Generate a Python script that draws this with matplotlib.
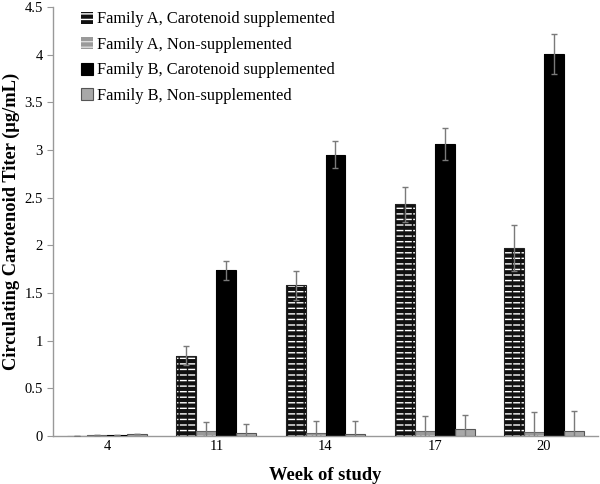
import matplotlib
matplotlib.use("Agg")
import matplotlib.pyplot as plt
import numpy as np
from matplotlib.ticker import FuncFormatter, MultipleLocator
from matplotlib.patches import Patch

plt.rcParams['font.family'] = ['Liberation Serif', 'DejaVu Serif']
plt.rcParams['hatch.linewidth'] = 1.0

weeks = ["4", "11", "14", "17", "20"]
series_names = ["Family A, Carotenoid supplemented", "Family A, Non-supplemented",
                "Family B, Carotenoid supplemented", "Family B, Non-supplemented"]
a_supp = [0.005, 0.84, 1.58, 2.43, 1.97]
a_supp_err = [0.0, 0.10, 0.15, 0.18, 0.24]
a_non = [0.01, 0.05, 0.03, 0.05, 0.04]
a_non_err = [0.0, 0.10, 0.13, 0.16, 0.21]
b_supp = [0.01, 1.74, 2.95, 3.06, 4.01]
b_supp_err = [0.0, 0.10, 0.14, 0.17, 0.21]
b_non = [0.02, 0.03, 0.02, 0.07, 0.05]
b_non_err = [0.0, 0.10, 0.14, 0.15, 0.21]

values = [a_supp, a_non, b_supp, b_non]
errors = [a_supp_err, a_non_err, b_supp_err, b_non_err]
faces = ["#111111", "#9a9a9a", "#000000", "#a8a8a8"]
hatch_cols = ["#ffffff", "#dcdcdc", None, None]
edges = ["#222222", "#666666", "#000000", "#555555"]

fig = plt.figure(figsize=(6.0, 4.84), dpi=100)
ax = fig.add_axes([0.088, 0.0992, 0.909, 0.8863])

x = np.arange(len(weeks))
w = 0.183
handles = []
for i in range(4):
    pos = x + (i - 1.5) * w
    if hatch_cols[i] is not None:
        ax.bar(pos, values[i], w, color=faces[i], edgecolor=hatch_cols[i],
               hatch='---', linewidth=0, zorder=2)
        ax.bar(pos, values[i], w, fill=False, edgecolor=faces[i],
               hatch='||', linewidth=0, zorder=2.5)
    else:
        ax.bar(pos, values[i], w, color=faces[i], linewidth=0, zorder=2)
    ax.bar(pos, values[i], w, fill=False, edgecolor=edges[i], linewidth=0.8, zorder=3)
    ax.errorbar(pos, values[i], yerr=errors[i], fmt='none', ecolor='#7a7a7a',
                elinewidth=1.0, capsize=2.3, capthick=1.0, zorder=4)
    if hatch_cols[i] is not None:
        handles.append(Patch(facecolor=faces[i], edgecolor=hatch_cols[i], hatch='---',
                             linewidth=0))
    else:
        handles.append(Patch(facecolor=faces[i], edgecolor=edges[i], linewidth=0.8))

ax.set_xlim(-0.5, len(weeks) - 0.5)
ax.set_ylim(0, 4.5)
ax.yaxis.set_major_locator(MultipleLocator(0.5))
ax.yaxis.set_major_formatter(FuncFormatter(lambda v, p: f"{v:g}"))
ax.set_xticks(x)
ax.set_xticklabels(weeks)
ax.tick_params(axis='x', length=0, labelsize=10.5, pad=3)
ax.tick_params(axis='y', length=4, color='#999999', labelsize=10.5, width=0.8, pad=3)
for s in ['top', 'right']:
    ax.spines[s].set_visible(False)
for s in ['left', 'bottom']:
    ax.spines[s].set_color('#999999')
    ax.spines[s].set_linewidth(1.0)

ax.set_ylabel("Circulating Carotenoid Titer (μg/mL)", fontsize=13.3, fontweight='bold', labelpad=3)
ax.set_xlabel("Week of study", fontsize=13.3, fontweight='bold', labelpad=10)

leg = ax.legend(handles, series_names, loc='upper left', bbox_to_anchor=(0.039, 1.005),
                frameon=False, fontsize=11.8, handlelength=0.75, handleheight=0.75,
                handletextpad=0.25, labelspacing=0.58, borderaxespad=0)

fig.savefig("out.png", dpi=100)
